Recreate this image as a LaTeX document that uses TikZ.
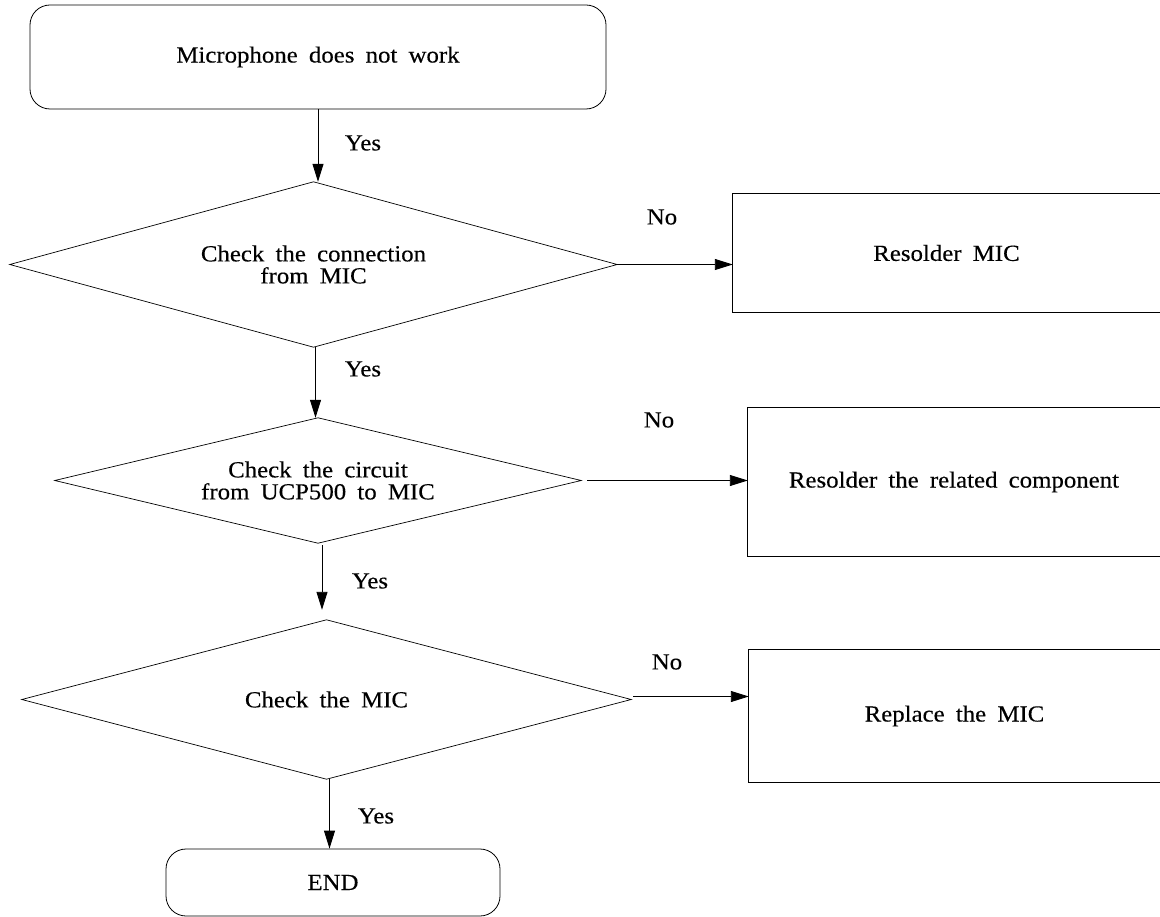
\documentclass[tikz,border=0pt]{standalone}
\usepackage{fontspec}
\setmainfont{Liberation Serif}[FakeStretch=1.08,WordSpace=1.8,FakeBold=0.3]
\usetikzlibrary{arrows.meta}
\tikzset{
  lbl/.style={font=\fontsize{23}{22}\selectfont, inner sep=0pt},
  txt/.style={font=\fontsize{23}{22}\selectfont, align=center, inner sep=0pt},
  rbox/.style={txt, draw, rounded corners=20pt, line width=0.8pt},
  obox/.style={txt, draw=none},
  dia/.style={txt, draw=none},
  diaedge/.style={line width=0.7pt},
  arr/.style={-{Triangle[length=18pt,width=11pt]}, line width=0.9pt},
  side/.style={line width=0.9pt}
}
\begin{document}
\begin{tikzpicture}[x=1pt,y=-1pt]
\useasboundingbox (0,0) rectangle (1160,917);
% start
\node[rbox, minimum width=576pt, minimum height=104pt] (start) at (318,57) {Microphone does not work};
% diamonds
\node[dia, minimum width=607pt, minimum height=165pt] (d1) at (313.5,264.5) {Check the connection\\from MIC};
\node[dia, minimum width=526pt, minimum height=125pt] (d2) at (318,480.5) {Check the circuit\\from UCP500 to MIC};
\node[dia, minimum width=609pt, minimum height=159pt] (d3) at (326.5,699.5) {Check the MIC};
\foreach \d in {d1,d2,d3}
  \draw[diaedge] (\d.north) -- (\d.east) -- (\d.south) -- (\d.west) -- cycle;
% end
\node[rbox, minimum width=334pt, minimum height=67pt] (end) at (333,882.5) {END};
% right boxes
\node[obox, minimum width=427pt, minimum height=118pt] (b1) at (946.5,253) {Resolder MIC};
\node[obox, minimum width=412pt, minimum height=148pt] (b2) at (954,482) {Resolder the related component};
\node[obox, minimum width=411pt, minimum height=132pt] (b3) at (954.5,716) {Replace the MIC};
\foreach \b in {b1,b2,b3}
  \draw[side] (\b.north east) -- (\b.north west) -- (\b.south west) -- (\b.south east);
% vertical arrows
\draw[arr] (start.south) -- (start.south |- d1.north);
\draw[arr] ([xshift=2pt]d1.south) -- ([xshift=2pt]d1.south |- d2.north);
\draw[arr] ([xshift=4pt,yshift=-2pt]d2.south) -- ([xshift=4pt,yshift=10pt]d2.south |- d3.north);
\draw[arr] ([xshift=3pt]d3.south) -- ([xshift=3pt]d3.south |- end.north);
% horizontal arrows
\draw[arr] (d1.east) -- (b1.west |- d1.east);
\draw[arr] ([xshift=6pt]d2.east) -- (b2.west |- d2.east);
\draw[arr] ([xshift=2pt,yshift=3pt]d3.east) -- ([yshift=3pt]b3.west |- d3.east);
% labels
\node[lbl] (y1) at (363,143) {Yes};
\node[lbl] (y2) at (363,369) {Yes};
\node[lbl] (y3) at (370,581) {Yes};
\node[lbl] (y4) at (376,816) {Yes};
\node[lbl] (n1) at (662,217) {No};
\node[lbl] (n2) at (659,420) {No};
\node[lbl] (n3) at (667,662) {No};
\end{tikzpicture}
\end{document}
